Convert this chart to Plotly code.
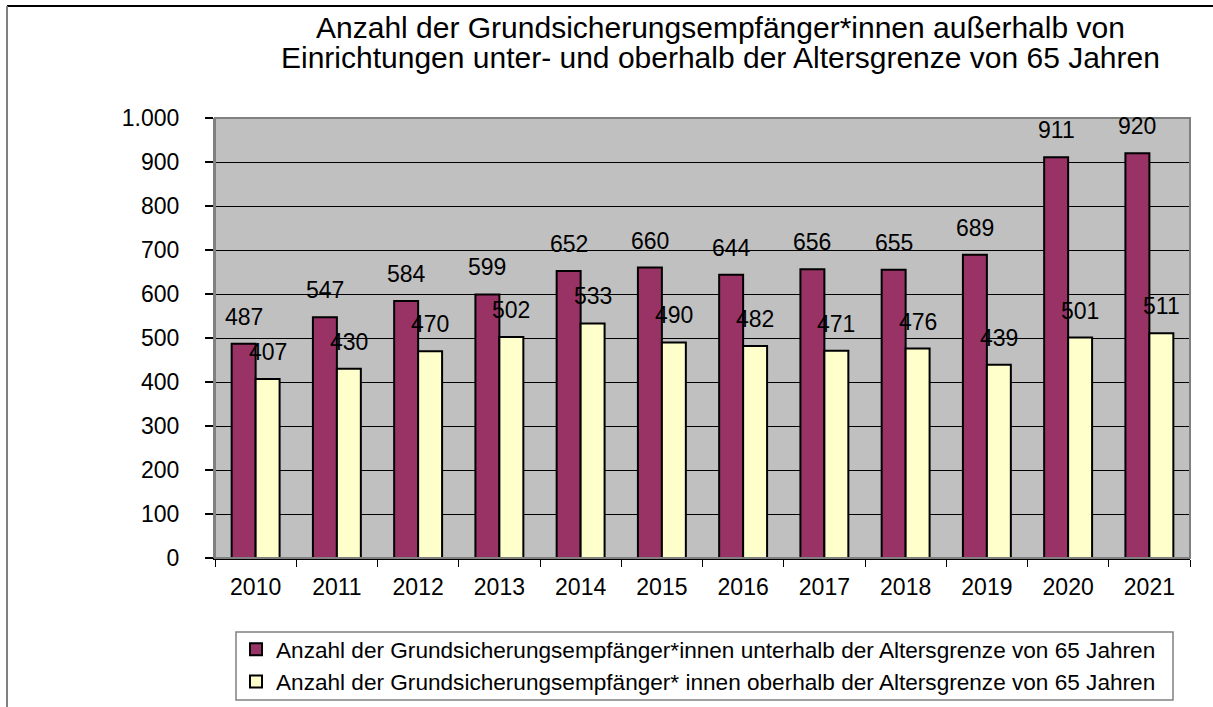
import plotly.graph_objects as go

years = ["2010", "2011", "2012", "2013", "2014", "2015", "2016", "2017", "2018", "2019", "2020", "2021"]
unter = [487, 547, 584, 599, 652, 660, 644, 656, 655, 689, 911, 920]
ober = [407, 430, 470, 502, 533, 490, 482, 471, 476, 439, 501, 511]
name_unter = "Anzahl der Grundsicherungsempfänger*innen unterhalb der Altersgrenze von 65 Jahren"
name_ober = "Anzahl der Grundsicherungsempfänger* innen oberhalb der Altersgrenze von 65 Jahren"
title_lines = ["Anzahl der Grundsicherungsempfänger*innen außerhalb von",
               "Einrichtungen unter- und oberhalb der Altersgrenze von 65 Jahren"]
y_ticks = [0, 100, 200, 300, 400, 500, 600, 700, 800, 900, 1000]
y_ticklabels = ["0", "100", "200", "300", "400", "500", "600", "700", "800", "900", "1.000"]

FONT = "Liberation Sans, Arial, sans-serif"

L, R, T, B = 215, 23, 118, 149
W, H = 1213, 707
pw, ph = W - L - R, H - T - B

def px_x(p):
    return (p - L) / pw

def px_y(p):
    return (H - B - p) / ph

fig = go.Figure()
fig.add_trace(go.Bar(x=years, y=unter, name=name_unter,
                     marker=dict(color="#993366", line=dict(color="black", width=2))))
fig.add_trace(go.Bar(x=years, y=ober, name=name_ober,
                     marker=dict(color="#FFFFCC", line=dict(color="black", width=2))))

annotations = []
for i, v in enumerate(unter):
    annotations.append(dict(x=i, y=v, xref="x", yref="y", text=str(v), showarrow=False,
                            xshift=-12, yshift=12, yanchor="bottom",
                            font=dict(size=23, color="black", family=FONT)))
for i, v in enumerate(ober):
    annotations.append(dict(x=i, y=v, xref="x", yref="y", text=str(v), showarrow=False,
                            xshift=12, yshift=12, yanchor="bottom",
                            font=dict(size=23, color="black", family=FONT)))
for line, cy in zip(title_lines, [27, 58]):
    annotations.append(dict(x=px_x(720), y=px_y(cy), xref="paper", yref="paper", text=line,
                            showarrow=False, xanchor="center", yanchor="middle",
                            font=dict(size=30, color="black", family=FONT)))

shapes = [
    dict(type="rect", xref="paper", yref="paper", x0=0, x1=1, y0=0, y1=1,
         line=dict(color="#808080", width=2), layer="above"),
    dict(type="line", xref="paper", yref="paper", x0=px_x(7), x1=px_x(1300), y0=px_y(6), y1=px_y(6),
         line=dict(color="black", width=2)),
    dict(type="line", xref="paper", yref="paper", x0=px_x(7), x1=px_x(7), y0=px_y(6), y1=px_y(800),
         line=dict(color="#808080", width=2)),
    # legend frame
    dict(type="rect", xref="paper", yref="paper", x0=px_x(236), x1=px_x(1173),
         y0=px_y(700), y1=px_y(632), line=dict(color="#808080", width=1.5),
         fillcolor="white", layer="below"),
]

fig.update_layout(
    width=W, height=H,
    margin=dict(l=L, r=R, t=T, b=B, autoexpand=False),
    paper_bgcolor="white",
    plot_bgcolor="#C0C0C0",
    barmode="group",
    bargap=0.41,
    bargroupgap=0,
    font=dict(family=FONT, color="black", size=23),
    showlegend=True,
    legend=dict(x=px_x(236), y=px_y(628), xanchor="left", yanchor="top",
                bgcolor="rgba(0,0,0,0)", borderwidth=0,
                font=dict(size=22.6, family=FONT), orientation="v", tracegroupgap=0,
                itemwidth=30),
    annotations=annotations,
    shapes=shapes,
    xaxis=dict(type="category", showline=True, linecolor="black", linewidth=1.5,
               ticks="outside", tickson="boundaries", ticklen=7, tickcolor="black",
               tickfont=dict(size=23), tickangle=0, showgrid=False, zeroline=False,
               ticklabelstandoff=8, automargin=False),
    yaxis=dict(range=[0, 1000], tickvals=y_ticks, ticktext=y_ticklabels,
               showline=True, linecolor="#808080", linewidth=2,
               ticks="outside", ticklen=8, tickcolor="black", tickwidth=1.5,
               showgrid=True, gridcolor="black", gridwidth=1, zeroline=False,
               ticklabelstandoff=21, tickfont=dict(size=23), automargin=False),
)

fig.write_html("out.html", config={"displayModeBar": False},
               post_script="document.body.style.margin='0';document.body.style.overflow='hidden';")
